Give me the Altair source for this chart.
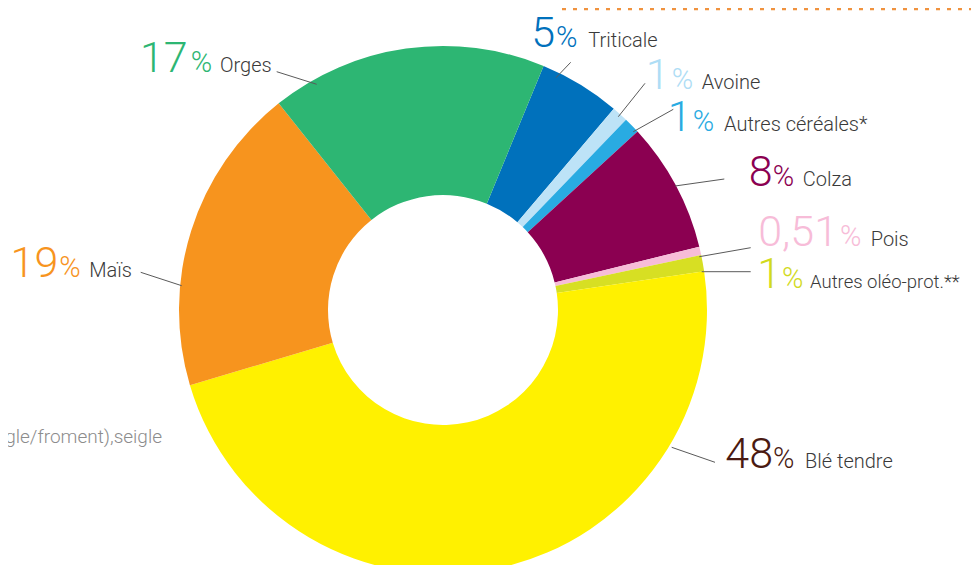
import math
import altair as alt
import pandas as pd

# ---------------- data ----------------
categories = ["Triticale", "Avoine", "Autres céréales*", "Colza", "Pois",
              "Autres oléo-prot.**", "Blé tendre", "Maïs", "Orges"]
values = [5, 1, 1, 8, 0.51, 1, 48, 19, 17]
footnote = "(hybride seigle/froment),seigle"

# ---------------- styles ----------------
slice_colors = ["#0071BC", "#BDE3F7", "#29ABE2", "#8B0051", "#F7BCD8",
                "#D7DF23", "#FFF100", "#F7941E", "#2DB673"]
label_colors = ["#0071BC", "#AEDDF5", "#29ABE2", "#8B0051", "#F7BCD8",
                "#D2DA1E", "#4A1A12", "#F7941E", "#2DB673"]
name_sizes = [20, 20, 20, 20, 20, 18.5, 20, 20, 20]
name_color = "#3A3A3A"
leader_color = "#5A5A5A"
FONT = "Roboto"

# ---------------- layout (page px, shifted by the 8px page margin) ----------------
OFF = 8
CX, CY = 443 - OFF, 310 - OFF
R_OUT, R_IN = 264, 115
START_DEG = 22.4

pct_left = [556, 671.7, 692.7, 772.7, 840, 782, 773, 59.3, 190.7]
num_gap = [1, 2, 1, 0, 2, 1, 0, 1, 3]
name_left = [588.3, 701.7, 724, 802.7, 870.7, 810, 805, 89.3, 220]
baseline = [46.7, 89.3, 131, 185.5, 246, 288.3, 468.3, 276.7, 71.5]
leaders = [(570.7, 62.3, 556, 77.7), (645, 83.3, 618.3, 116.7),
           (673.3, 109.3, 633.3, 131.7), (724.3, 179, 675, 186),
           (750.7, 247.7, 699.3, 256.7), (750.7, 271.7, 701.7, 271.7),
           (715, 462.3, 671.7, 447.3), (140.7, 272.3, 181.7, 285.7),
           (276.7, 71.7, 316.7, 84.3)]

W, H = 979 - 2 * OFF, 573 - 2 * OFF

# ---------------- tables ----------------
slices = pd.DataFrame({
    "cat": categories,
    "value": values,
    "ord": list(range(len(categories))),
    "col": slice_colors,
})

labels = pd.DataFrame({
    "cat": categories,
    "num": [f"{v:g}".replace(".", ",") for v in values],
    "pct": ["%"] * len(values),
    "nx": [p - g - OFF for p, g in zip(pct_left, num_gap)],
    "px": [v - OFF for v in pct_left],
    "tx": [v - OFF for v in name_left],
    "by": [v - OFF for v in baseline],
    "lcol": label_colors,
    "nsize": name_sizes,
    "x1": [l[0] - OFF for l in leaders],
    "y1": [l[1] - OFF for l in leaders],
    "x2": [l[2] - OFF for l in leaders],
    "y2": [l[3] - OFF for l in leaders],
})

a0 = math.radians(START_DEG)

donut = alt.Chart(slices).mark_arc(outerRadius=R_OUT, innerRadius=R_IN).encode(
    theta=alt.Theta("value:Q", stack=True, scale=alt.Scale(range=[a0, a0 + 2 * math.pi])),
    order=alt.Order("ord:Q"),
    color=alt.Color("col:N", scale=None),
    x=alt.value(CX),
    y=alt.value(CY),
)

base = alt.Chart(labels)

rules = base.mark_rule(color=leader_color, strokeWidth=1).encode(
    x=alt.X("x1:Q", scale=None), y=alt.Y("y1:Q", scale=None),
    x2="x2:Q", y2="y2:Q",
)

nums = base.mark_text(align="right", baseline="alphabetic", font=FONT,
                      fontWeight=300, fontSize=43).encode(
    x=alt.X("nx:Q", scale=None), y=alt.Y("by:Q", scale=None),
    text="num:N", color=alt.Color("lcol:N", scale=None),
)

pcts = base.mark_text(align="left", baseline="alphabetic", font=FONT,
                      fontWeight=300, fontSize=29).encode(
    x=alt.X("px:Q", scale=None), y=alt.Y("by:Q", scale=None),
    text="pct:N", color=alt.Color("lcol:N", scale=None),
)

names = base.mark_text(align="left", baseline="alphabetic", font=FONT,
                       fontWeight=300, color=name_color).encode(
    x=alt.X("tx:Q", scale=None), y=alt.Y("by:Q", scale=None),
    text="cat:N", size=alt.Size("nsize:Q", scale=None),
)

foot = alt.Chart(pd.DataFrame({"t": [footnote]})).mark_text(
    align="right", baseline="alphabetic", font=FONT, fontWeight=300,
    fontSize=19, color="#8C8C8C",
).encode(x=alt.value(162 - OFF), y=alt.value(443 - OFF), text="t:N")

dotted = alt.Chart(pd.DataFrame({"a": [0]})).mark_rule(
    color="#F0923E", strokeWidth=2.5, strokeDash=[4, 7], strokeCap="butt"
).encode(x=alt.value(562 - OFF), x2=alt.value(W), y=alt.value(1))

chart = alt.layer(donut, rules, nums, pcts, names, foot, dotted).properties(
    width=W, height=H, autosize=alt.AutoSizeParams(type="none"), padding=0,
).configure_view(stroke=None)

chart.save("out.html", embed_options={"renderer": "svg", "actions": False})
